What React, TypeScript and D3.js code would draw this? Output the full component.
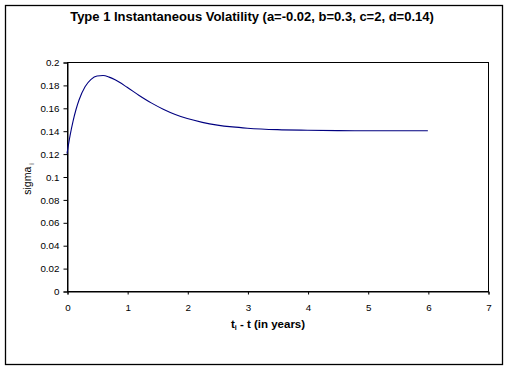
import { useEffect, useRef } from "react";
import * as d3 from "d3";

// values
const tValues = [0, 0.05, 0.1, 0.15, 0.2, 0.3, 0.4, 0.5, 0.6, 0.7, 0.8, 1.0, 1.2, 1.4, 1.6, 1.8, 2.0, 2.25, 2.5, 2.75, 3.0, 3.5, 4.0, 4.5, 5.0, 5.5, 6.0];
const sigmaValues = [0.12, 0.1355, 0.1482, 0.1585, 0.1668, 0.1784, 0.1849, 0.1878, 0.1882, 0.1868, 0.1844, 0.1779, 0.1708, 0.1643, 0.1588, 0.1542, 0.1506, 0.1473, 0.1449, 0.1433, 0.1422, 0.1409, 0.1404, 0.1401, 0.14, 0.14, 0.14];
const xTicks = [0, 1, 2, 3, 4, 5, 6, 7];
const yTicks = [0, 0.02, 0.04, 0.06, 0.08, 0.1, 0.12, 0.14, 0.16, 0.18, 0.2];

const W = 509;
const H = 371;
const plot = { left: 67, top: 62, right: 488, bottom: 291 };
const font = "'Liberation Sans', Arial, sans-serif";

export default function App() {
  const ref = useRef<SVGSVGElement>(null);

  useEffect(() => {
    const svg = d3.select(ref.current);
    svg.selectAll("*").remove();

    svg.append("rect")
      .attr("x", 5.5).attr("y", 5.5)
      .attr("width", 497).attr("height", 359)
      .attr("fill", "white").attr("stroke", "black").attr("stroke-width", 1.3);

    const x = d3.scaleLinear().domain([0, 7]).range([plot.left, plot.right]);
    const y = d3.scaleLinear().domain([0, 0.2]).range([plot.bottom, plot.top]);

    // plot area border
    svg.append("rect")
      .attr("x", plot.left + 0.5).attr("y", plot.top + 0.5)
      .attr("width", plot.right - plot.left).attr("height", plot.bottom - plot.top)
      .attr("fill", "none").attr("stroke", "black").attr("stroke-width", 1);

    const xAxis = svg.append("g")
      .attr("transform", `translate(0.5,${plot.bottom + 0.5})`)
      .call(d3.axisBottom(x).tickValues(xTicks).tickSize(3).tickPadding(10).tickFormat(d3.format("d")));
    const yAxis = svg.append("g")
      .attr("transform", `translate(${plot.left + 0.5},0.5)`)
      .call(d3.axisLeft(y).tickValues(yTicks).tickSize(4).tickPadding(4).tickFormat((d) => String(+d)));

    [xAxis, yAxis].forEach((g) => {
      g.select(".domain").attr("stroke", "black");
      g.selectAll(".tick line").attr("stroke", "black");
      g.selectAll("text")
        .attr("font-family", font)
        .attr("font-size", 9.8)
        .attr("fill", "black");
    });

    const line = d3.line<number>()
      .x((_, i) => x(tValues[i]))
      .y((d) => y(d))
      .curve(d3.curveMonotoneX);

    svg.append("path")
      .datum(sigmaValues)
      .attr("fill", "none")
      .attr("stroke", "#000080")
      .attr("stroke-width", 1.1)
      .attr("d", line);

    svg.append("text")
      .attr("x", 252).attr("y", 21)
      .attr("text-anchor", "middle")
      .attr("font-family", font).attr("font-weight", "bold").attr("font-size", 13)
      .text("Type 1 Instantaneous Volatility (a=-0.02, b=0.3, c=2, d=0.14)");

    const xl = svg.append("text")
      .attr("x", 268).attr("y", 328)
      .attr("text-anchor", "middle")
      .attr("font-family", font).attr("font-weight", "bold").attr("font-size", 11.5);
    xl.append("tspan").text("t");
    xl.append("tspan").attr("font-size", 7).attr("dy", 2).text("i");
    xl.append("tspan").attr("dy", -2).text(" - t (in years)");

    const yl = svg.append("text")
      .attr("transform", "translate(31,179) rotate(-90)")
      .attr("text-anchor", "middle")
      .attr("font-family", font).attr("font-size", 10.5);
    yl.append("tspan").text("sigma");
    yl.append("tspan").attr("font-size", 7).attr("dy", 3).text(" i");
  }, []);

  return (
    <svg
      ref={ref}
      width={W}
      height={H}
      style={{ position: "fixed", left: 0, top: 0, background: "white" }}
    />
  );
}
